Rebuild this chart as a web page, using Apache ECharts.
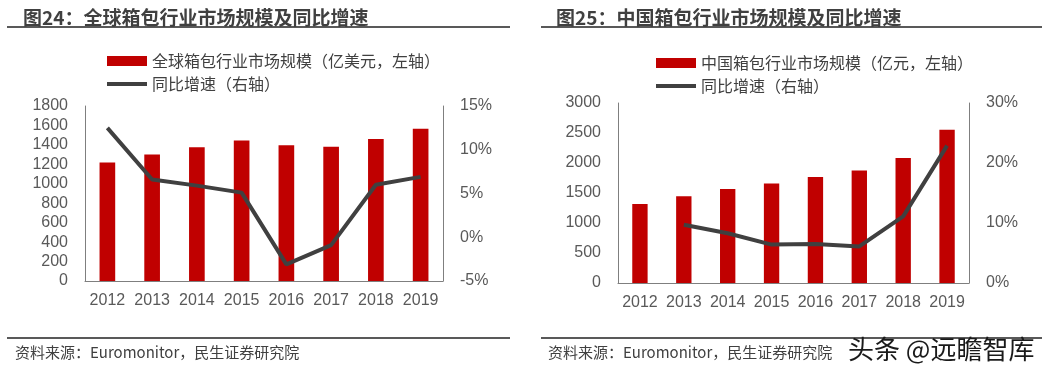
<!DOCTYPE html>
<html><head><meta charset="utf-8">
<script src="https://cdn.jsdelivr.net/npm/echarts@6/dist/echarts.min.js"></script>
<style>
html,body{margin:0;padding:0;background:#fff;width:1054px;height:371px;overflow:hidden;}
#c1{position:absolute;left:0;top:0;width:527px;height:371px;}
#c2{position:absolute;left:527px;top:0;width:527px;height:371px;}
#wm{position:absolute;left:848px;top:333px;font:26px "Noto Sans CJK SC";color:#1a1a1a;line-height:30px;}
</style></head>
<body>
<div id="c1"></div><div id="c2"></div>
<script>
const years = ['2012','2013','2014','2015','2016','2017','2018','2019'];
const globalSize = [1220, 1300, 1375, 1444, 1396, 1382, 1461, 1565];
const globalGrowth = [12.5, 6.6, 5.9, 5.1, -3.1, -0.9, 6.0, 6.9];
const chinaSize = [1317, 1444, 1567, 1660, 1767, 1877, 2083, 2555];
const chinaGrowth = [null, 9.7, 8.3, 6.4, 6.5, 6.1, 11.1, 22.9];
const title1 = '图24：全球箱包行业市场规模及同比增速';
const title2 = '图25：中国箱包行业市场规模及同比增速';
const barName1 = '全球箱包行业市场规模（亿美元，左轴）';
const barName2 = '中国箱包行业市场规模（亿元，左轴）';
const lineName = '同比增速（右轴）';
const source = '资料来源：Euromonitor，民生证券研究院';

const FONT = '"Noto Sans CJK SC", sans-serif';
const NUMFONT = '"Liberation Sans", "Noto Sans CJK SC", sans-serif';
const AX = '#7f7f7f';
const TXT = '#595959';

function build(o){
  return {
    animation:false,
    textStyle:{fontFamily:FONT},
    title:{text:o.title,left:o.titleX,top:3,textStyle:{fontSize:19,fontWeight:'bold',color:'#404040',fontFamily:FONT}},
    graphic:[
      {type:'line',shape:{x1:o.lineX1,y1:27,x2:o.lineX2,y2:27},style:{stroke:'#595959',lineWidth:2}},
      {type:'line',shape:{x1:o.lineX1,y1:338,x2:o.lineX2,y2:338},style:{stroke:'#595959',lineWidth:2}},
      {type:'text',left:o.titleX-3,top:345,style:{text:source,fontSize:15,fill:'#404040',fontFamily:FONT}}
    ],
    legend:{orient:'vertical',left:o.legX,top:o.legY,itemWidth:40,itemHeight:10,itemGap:7,
      textStyle:{fontSize:16,color:'#404040',fontFamily:FONT},
      data:[{name:o.barName,icon:'rect'},
            {name:lineName,lineStyle:{width:4,color:'#404040'},
             itemStyle:{color:'rgba(0,0,0,0)',borderColor:'rgba(0,0,0,0)',borderWidth:0}}]},
    grid:{left:o.gl,right:o.gr,top:o.gt,bottom:o.gb},
    xAxis:{type:'category',data:years,axisLine:{lineStyle:{color:AX}},axisTick:{show:false},
      axisLabel:{fontSize:16,color:TXT,fontFamily:NUMFONT,margin:12,interval:0}},
    yAxis:[
      {type:'value',min:0,max:o.lmax,interval:o.lint,splitLine:{show:false},
       axisLine:{show:true,lineStyle:{color:AX}},axisTick:{show:false},
       axisLabel:{fontSize:16,color:TXT,fontFamily:NUMFONT,margin:17,formatter:v=>String(v)}},
      {type:'value',min:o.rmin,max:o.rmax,interval:o.rint,splitLine:{show:false},
       axisLine:{show:true,lineStyle:{color:AX}},axisTick:{show:false},
       axisLabel:{fontSize:16,color:TXT,fontFamily:NUMFONT,margin:17,formatter:v=>v+'%'}}
    ],
    series:[
      {name:o.barName,type:'bar',data:o.bars,barWidth:'35%',itemStyle:{color:'#C00000'}},
      {name:lineName,type:'line',yAxisIndex:1,data:o.line,symbol:'none',
       lineStyle:{color:'#404040',width:4},itemStyle:{color:'#404040'}}
    ]
  };
}
const c1 = echarts.init(document.getElementById('c1'),null,{renderer:'canvas'});
c1.setOption(build({title:title1,titleX:18,lineX1:7,lineX2:510,legX:100,legY:48,
  barName:barName1,gl:85,gr:84,gt:106,gb:90,lmax:1800,lint:200,rmin:-5,rmax:15,rint:5,
  bars:globalSize,line:globalGrowth}));
const c2 = echarts.init(document.getElementById('c2'),null,{renderer:'canvas'});
c2.setOption(build({title:title2,titleX:24,lineX1:14,lineX2:515,legX:122,legY:50,
  barName:barName2,gl:91,gr:85,gt:103,gb:88,lmax:3000,lint:500,rmin:0,rmax:30,rint:10,
  bars:chinaSize,line:chinaGrowth}));
</script>
<div id="wm">头条 @远瞻智库</div>
</body></html>
